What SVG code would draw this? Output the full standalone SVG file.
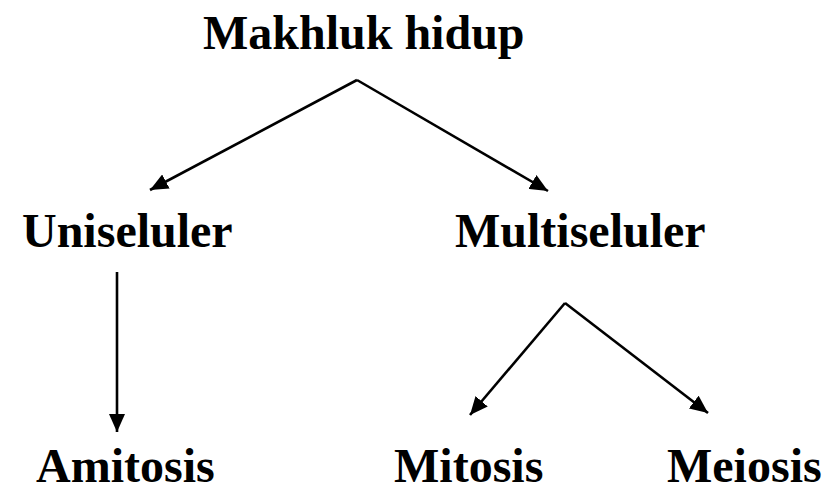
<svg xmlns="http://www.w3.org/2000/svg" width="833" height="497" viewBox="0 0 833 497">
<style>
.lbl{font-family:"Liberation Serif","Times New Roman","DejaVu Serif",serif;font-weight:bold;font-size:48px;fill:#000}
.edge{stroke:#000;stroke-width:2.6;fill:none}
</style>
<defs>
<marker id="ah" markerUnits="userSpaceOnUse" markerWidth="18" markerHeight="16" refX="18" refY="8" orient="auto">
<path d="M0,0 L18,8 L0,16 z" fill="#000"/>
</marker>
</defs>
<rect width="833" height="497" fill="#fff"/>
<g id="connectors">
<path class="edge" d="M357,80 L150,190" marker-end="url(#ah)"/>
<path class="edge" d="M357,80 L548,191" marker-end="url(#ah)"/>
<path class="edge" d="M117,272 L117,432" marker-end="url(#ah)"/>
<path class="edge" d="M565,303 L470,415" marker-end="url(#ah)"/>
<path class="edge" d="M565,303 L708,413" marker-end="url(#ah)"/>
</g>
<g id="makhluk-hidup"><text class="lbl" x="203" y="49">Makhluk hidup</text></g>
<g id="uniseluler"><text class="lbl" x="22" y="247">Uniseluler</text></g>
<g id="multiseluler"><text class="lbl" x="455" y="247">Multiseluler</text></g>
<g id="amitosis"><text class="lbl" x="36" y="482">Amitosis</text></g>
<g id="mitosis"><text class="lbl" x="394" y="482">Mitosis</text></g>
<g id="meiosis"><text class="lbl" x="667" y="482">Meiosis</text></g>
</svg>
